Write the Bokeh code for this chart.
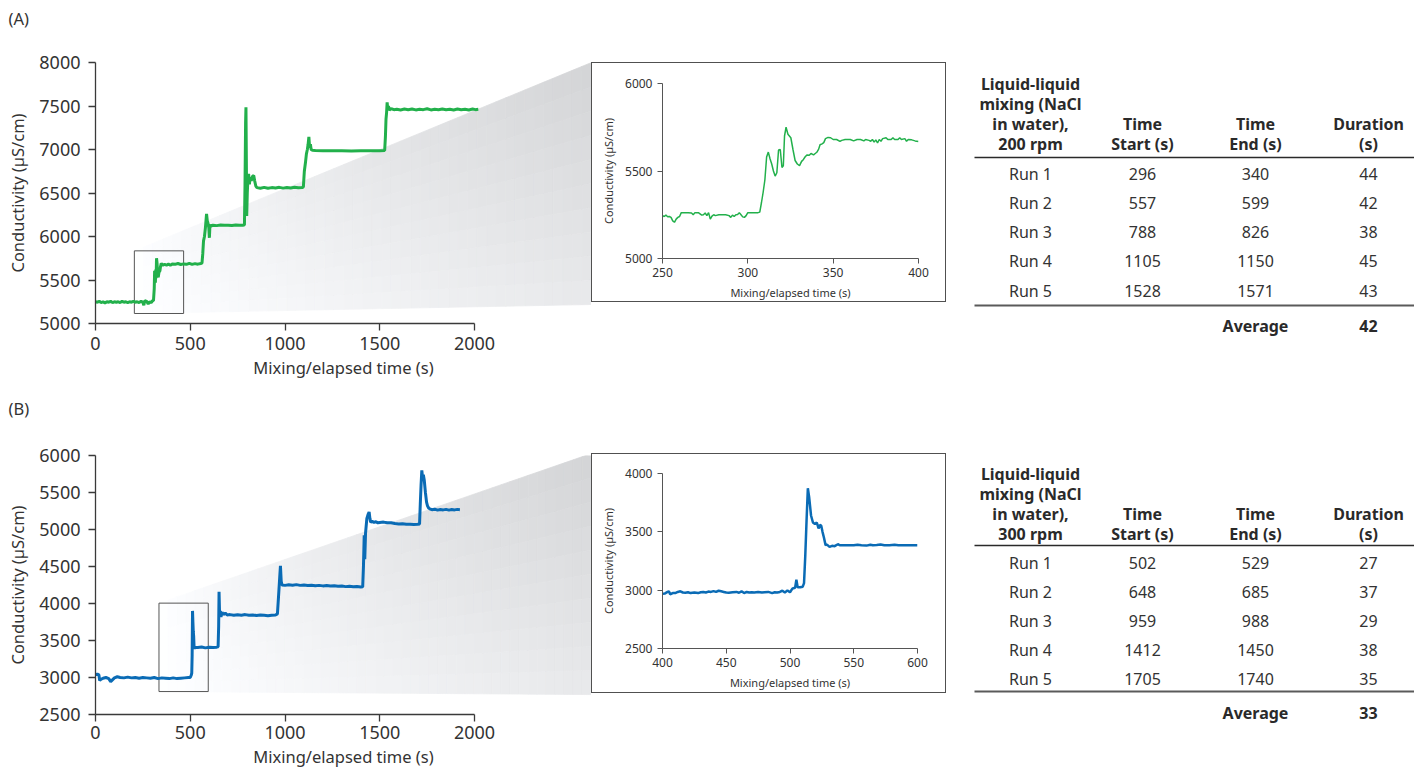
from bokeh.plotting import figure
from bokeh.layouts import row, column
from bokeh.models import Range1d, FixedTicker
from bokeh.embed import file_html
from bokeh.resources import INLINE
from bokeh.core.properties import value

FONT = "Noto Sans"
GREEN = "#22b04b"
BLUE = "#0a6bb5"
TXT = "#333333"
AX = "#3a3a3a"

# ---------------- data ----------------
# (A) 200 rpm, full run
a_time = [0, 10, 20, 30, 40, 50, 60, 70, 80, 90, 100, 110, 120, 130, 140, 150, 160, 170, 180, 190,
          200, 210, 220, 230, 240, 250, 255, 260, 270, 278, 285, 295, 300, 306, 310, 312, 316, 318,
          320, 322, 325, 328, 331, 335, 340, 343, 347, 355, 365, 375, 385, 395, 405, 420, 435, 450,
          465, 480, 495, 510, 525, 540, 555, 562, 566, 570, 575, 580, 586, 590, 594, 598, 601, 604,
          610, 620, 640, 660, 680, 700, 720, 740, 760, 780, 786, 789, 792, 794, 796, 798, 801, 804,
          808, 812, 816, 822, 828, 835, 840, 846, 852, 870, 890, 910, 930, 950, 970, 990, 1010, 1030,
          1050, 1070, 1090, 1097, 1102, 1108, 1113, 1118, 1122, 1126, 1130, 1134, 1138, 1145, 1160,
          1200, 1250, 1300, 1350, 1400, 1450, 1500, 1526, 1530, 1533, 1536, 1539, 1542, 1546, 1550,
          1556, 1565, 1575, 1590, 1610, 1630, 1650, 1670, 1690, 1710, 1730, 1750, 1770, 1790, 1810,
          1830, 1850, 1870, 1890, 1910, 1930, 1950, 1970, 1990, 2005, 2020]
a_cond = [5250, 5245, 5255, 5240, 5250, 5235, 5250, 5245, 5255, 5240, 5250, 5245, 5250, 5240, 5255,
          5245, 5250, 5240, 5250, 5245, 5255, 5245, 5250, 5240, 5255, 5245, 5210, 5262, 5255, 5225,
          5248, 5240, 5262, 5262, 5400, 5605, 5470, 5620, 5520, 5750, 5690, 5560, 5530, 5590, 5605,
          5655, 5690, 5670, 5680, 5672, 5682, 5670, 5685, 5680, 5690, 5678, 5685, 5680, 5692, 5680,
          5688, 5682, 5690, 5695, 5800, 5950, 6000, 6100, 6260, 6180, 6150, 6100, 5985, 6130, 6120,
          6130, 6125, 6132, 6128, 6130, 6126, 6132, 6128, 6130, 6135, 6600, 7300, 7485, 6900, 6235,
          6500, 6650, 6720, 6600, 6680, 6640, 6690, 6700, 6640, 6580, 6562, 6555, 6565, 6555, 6562,
          6558, 6565, 6556, 6562, 6558, 6565, 6560, 6562, 6570, 6750, 6850, 6950, 7000, 7060, 7146,
          7020, 7060, 7000, 6990, 6988, 6986, 6985, 6985, 6984, 6985, 6985, 6986, 6988, 7150, 7350,
          7420, 7542, 7470, 7500, 7450, 7470, 7465, 7458, 7462, 7455, 7465, 7458, 7466, 7455, 7462,
          7458, 7468, 7455, 7462, 7458, 7465, 7456, 7462, 7455, 7465, 7458, 7462, 7455, 7465, 7458,
          7462]

# (A) inset, 250-400 s
ai_time = [250, 251, 252, 253, 254, 255, 256, 257, 258, 259, 260, 261, 263, 265, 267, 268, 269, 271,
           272, 273, 274, 275, 276, 277, 278, 279, 280, 281, 283, 285, 287, 289, 290, 291, 292, 293,
           294, 295, 296, 297, 298, 299, 300, 303, 306, 307, 308, 309, 310, 311, 312, 313, 314, 315,
           316, 317, 318, 319, 320, 320.8, 321.5, 322.4, 323.5, 325.2, 326.5, 327.7, 329, 330.3,
           331.5, 332.6, 333.5, 334.6, 336, 337, 338.5, 339.5, 340.4, 341.5, 342.3, 343.5, 344.5,
           345.5, 347, 348.5, 350, 352, 354, 355, 357, 358, 360, 362, 364, 366, 368, 369, 371, 372,
           373, 374, 375, 376, 377, 378, 379, 381, 382, 384, 385, 386, 388, 389, 390, 392, 393, 394,
           396, 398, 400]
ai_cond = [5245, 5240, 5248, 5238, 5240, 5235, 5215, 5207, 5225, 5235, 5240, 5262, 5262, 5262, 5260,
           5250, 5262, 5262, 5255, 5248, 5250, 5260, 5245, 5262, 5225, 5242, 5250, 5245, 5250, 5250,
           5250, 5245, 5235, 5248, 5240, 5250, 5252, 5262, 5250, 5238, 5235, 5245, 5262, 5262, 5262,
           5265, 5320, 5380, 5450, 5580, 5608, 5570, 5540, 5500, 5471, 5490, 5620, 5623, 5520, 5530,
           5700, 5750, 5710, 5690, 5620, 5560, 5540, 5531, 5555, 5566, 5580, 5592, 5590, 5600, 5592,
           5600, 5607, 5625, 5650, 5655, 5662, 5685, 5692, 5690, 5680, 5680, 5669, 5675, 5680, 5680,
           5680, 5672, 5680, 5680, 5672, 5680, 5675, 5670, 5680, 5665, 5678, 5660, 5680, 5670, 5685,
           5690, 5680, 5680, 5690, 5680, 5680, 5690, 5680, 5685, 5670, 5680, 5678, 5672, 5668]

# (B) 300 rpm, full run
b_time = [0, 10, 18, 22, 28, 40, 55, 70, 80, 88, 100, 115, 130, 150, 170, 190, 210, 230, 250, 270,
          290, 310, 330, 350, 370, 390, 410, 430, 450, 470, 490, 500, 505, 508, 510, 512, 514, 516,
          518, 520, 522, 526, 540, 560, 580, 600, 620, 640, 647, 650, 652, 655, 658, 662, 668, 675,
          685, 695, 710, 730, 750, 770, 790, 810, 830, 850, 870, 890, 910, 930, 950, 960, 966, 972,
          976, 980, 984, 1000, 1020, 1040, 1060, 1080, 1100, 1120, 1140, 1160, 1180, 1200, 1220, 1240,
          1260, 1280, 1300, 1320, 1340, 1360, 1380, 1400, 1410, 1414, 1418, 1421, 1425, 1432, 1438,
          1444, 1448, 1452, 1460, 1470, 1480, 1490, 1500, 1520, 1540, 1560, 1580, 1600, 1620, 1640,
          1660, 1680, 1700, 1710, 1714, 1718, 1722, 1726, 1730, 1735, 1741, 1747, 1752, 1758, 1764,
          1775, 1790, 1805, 1820, 1835, 1850, 1865, 1880, 1895, 1910, 1923]
b_cond = [3040, 3045, 3035, 2960, 2975, 2990, 3000, 2985, 2945, 2965, 2995, 3010, 3000, 2995, 3005,
          2995, 3000, 2990, 3000, 2995, 2990, 3000, 2985, 2995, 2990, 2985, 2995, 2985, 2990, 2995,
          3000, 3000, 3030, 3060, 3300, 3900, 3750, 3622, 3560, 3420, 3390, 3410, 3405, 3412, 3400,
          3410, 3405, 3410, 3415, 3700, 4160, 3830, 3900, 3820, 3880, 3850, 3870, 3845, 3850, 3840,
          3848, 3842, 3850, 3840, 3845, 3838, 3845, 3840, 3835, 3842, 3845, 3860, 4100, 4350, 4510,
          4300, 4250, 4245, 4252, 4248, 4255, 4245, 4250, 4243, 4248, 4240, 4245, 4238, 4242, 4236,
          4240, 4232, 4236, 4228, 4232, 4225, 4230, 4222, 4225, 4500, 4923, 4600, 4950, 5150, 5200,
          5237, 5150, 5100, 5110, 5095, 5105, 5090, 5095, 5100, 5090, 5092, 5080, 5075, 5078, 5070,
          5072, 5068, 5070, 5075, 5350, 5600, 5798, 5700, 5740, 5664, 5500, 5370, 5320, 5290, 5280,
          5268, 5275, 5262, 5270, 5265, 5272, 5262, 5270, 5265, 5272, 5268]

# (B) inset, 400-600 s
bi_time = [400, 402, 404, 405, 406, 408, 410, 412, 414, 416, 418, 420, 422, 425, 428, 430, 432, 434,
           436, 438, 440, 442, 444, 446, 448, 450, 452, 455, 458, 460, 462, 464, 466, 468, 470, 472,
           475, 478, 480, 483, 486, 488, 490, 492, 494, 496, 498, 500, 502, 504, 505, 506, 508, 510,
           511, 512, 513, 514, 515, 516.5, 518, 519.6, 521, 522.4, 523.5, 524.5, 525.5, 526.6, 527.9,
           529, 531, 533, 535, 537.6, 539, 545, 550, 553, 556, 560, 563, 565, 568, 571, 574, 578, 582,
           585, 590, 595, 600]
bi_cond = [2970, 2972, 2985, 2990, 2965, 2975, 2975, 2985, 2990, 2980, 2978, 2982, 2975, 2980, 2975,
           2982, 2985, 2980, 2988, 2985, 2992, 2985, 2995, 2990, 2985, 2980, 2978, 2982, 2985, 2978,
           2990, 2975, 2985, 2980, 2982, 2980, 2985, 2980, 2982, 2985, 2975, 2982, 2980, 2985, 2995,
           2980, 2998, 2982, 3015, 3020, 3090, 3025, 3025, 3030, 3060, 3300, 3600, 3874, 3800, 3640,
           3580, 3566, 3580, 3529, 3560, 3552, 3500, 3452, 3386, 3390, 3371, 3380, 3377, 3394, 3385,
           3385, 3385, 3390, 3385, 3382, 3390, 3385, 3388, 3392, 3385, 3385, 3390, 3385, 3385, 3385,
           3385]

# zoom boxes (data units of the full runs)
a_zoom = (205, 465, 5115, 5835)
b_zoom = (335, 595, 2810, 4005)

# tables
a_header = ["Liquid-liquid", "mixing (NaCl", "in water),", "200 rpm"]
b_header = ["Liquid-liquid", "mixing (NaCl", "in water),", "300 rpm"]
col_heads = [["Time", "Start (s)"], ["Time", "End (s)"], ["Duration", "(s)"]]
runs = ["Run 1", "Run 2", "Run 3", "Run 4", "Run 5"]
a_start = ["296", "557", "788", "1105", "1528"]
a_end = ["340", "599", "826", "1150", "1571"]
a_dur = ["44", "42", "38", "45", "43"]
a_avg = "42"
b_start = ["502", "648", "959", "1412", "1705"]
b_end = ["529", "685", "988", "1450", "1740"]
b_dur = ["27", "37", "29", "38", "35"]
b_avg = "33"

# ---------------- layout constants (px) ----------------
MAIN_W = 591
MAIN_BL = 95                     # frame left border
PX_PER_2000 = 379                # px for 0..2000 s
X_END = 2000 * (MAIN_W - MAIN_BL) / PX_PER_2000
INSET_W, INSET_H = 355, 240
TABLE_W = 468


def style_axis(ax, size, label_size, tick_out, std, lab_std):
    ax.axis_line_color = AX
    ax.axis_line_width = 1.3
    ax.major_tick_line_color = AX
    ax.major_tick_line_width = 1.3
    ax.major_tick_out = tick_out
    ax.major_tick_in = 0
    ax.minor_tick_line_color = None
    ax.major_label_text_font = FONT
    ax.major_label_text_font_size = size
    ax.major_label_text_color = TXT
    ax.major_label_standoff = std
    ax.axis_label_text_font = FONT
    ax.axis_label_text_font_size = label_size
    ax.axis_label_text_font_style = "normal"
    ax.axis_label_text_color = TXT
    ax.axis_label_standoff = lab_std


def header_fig(text, height):
    p = figure(width=80, height=height, x_range=Range1d(0, 80), y_range=Range1d(height, 0),
               output_backend="svg", toolbar_location=None, min_border=0, min_border_left=0,
               min_border_right=0, min_border_top=0, min_border_bottom=0)
    p.axis.visible = False
    p.grid.visible = False
    p.outline_line_color = None
    p.text(x=[8], y=[height - 18], text=[text], text_font=value(FONT), text_font_size="16.5px",
           text_color=TXT, text_baseline="middle", text_align="left")
    return p


def main_fig(t, y, color, yr, yticks, zoom, height, top, bottom, box_top_px, box_bot_px,
             x_std, x_lab_std):
    frame_h = height - top - bottom
    p = figure(width=MAIN_W, height=height, x_range=Range1d(0, X_END),
               y_range=Range1d(*yr), output_backend="svg", toolbar_location=None,
               min_border_left=MAIN_BL, min_border_right=0, min_border_top=top,
               min_border_bottom=bottom)
    p.grid.visible = False
    p.outline_line_color = None
    # gradient wedge from zoom box to the inset
    per_px = (yr[1] - yr[0]) / frame_h
    y_top = yr[1] - box_top_px * per_px
    y_bot = yr[1] - box_bot_px * per_px
    bx0, bx1, by0, by1 = zoom
    xs, ys, cols = [], [], []
    nu, nv = 48, 10
    for i in range(nu):
        u0, u1 = i / nu, (i + 1) / nu
        xa = bx0 + u0 * (X_END - bx0)
        xb = bx0 + u1 * (X_END - bx0)
        ta = by1 + u0 * (y_top - by1)
        tb = by1 + u1 * (y_top - by1)
        ba = by0 + u0 * (y_bot - by0)
        bb = by0 + u1 * (y_bot - by0)
        for j in range(nv):
            v0, v1 = j / nv, (j + 1) / nv
            xs.append([xa, xb, xb, xa])
            ys.append([ta + v0 * (ba - ta), tb + v0 * (bb - tb),
                       tb + v1 * (bb - tb), ta + v1 * (ba - ta)])
            uc, vc = (u0 + u1) / 2, (v0 + v1) / 2
            g = 255 - 44 * (uc ** 0.85) * (1 - 0.5 * vc)
            c = "#%02x%02x%02x" % (int(g), int(min(255, g + 1)), int(min(255, g + 3)))
            cols.append(c)
    p.patches(xs, ys, fill_color=cols, line_color=cols, line_width=0.8)
    p.quad(left=[bx0], right=[bx1], bottom=[by0], top=[by1], fill_color=None,
           line_color="#555555", line_width=1)
    p.line(t, y, line_color=color, line_width=3)
    p.xaxis.ticker = FixedTicker(ticks=[0, 500, 1000, 1500, 2000])
    p.xaxis.bounds = (0, 2000)
    p.yaxis.ticker = FixedTicker(ticks=yticks)
    p.yaxis.bounds = (yr[0], yr[1])
    p.xaxis.axis_label = "Mixing/elapsed time (s)"
    p.yaxis.axis_label = "Conductivity (µS/cm)"
    style_axis(p.xaxis[0], "18px", "16.5px", 7, x_std, x_lab_std)
    style_axis(p.yaxis[0], "18px", "16.5px", 7, 8, 7)
    return p


def inset_fig(t, y, color, lw, xr, yr, xticks, yticks, top, bottom, right, margin_top):
    p = figure(width=INSET_W, height=INSET_H, x_range=Range1d(*xr), y_range=Range1d(*yr),
               output_backend="svg", toolbar_location=None,
               min_border_left=70, min_border_right=right, min_border_top=top,
               min_border_bottom=bottom, margin=(margin_top, 0, 0, 0))
    p.styles = {"border": "1px solid #505050"}
    p.grid.visible = False
    p.outline_line_color = None
    p.line(t, y, line_color=color, line_width=lw)
    p.xaxis.ticker = FixedTicker(ticks=xticks)
    p.yaxis.ticker = FixedTicker(ticks=yticks)
    p.xaxis.axis_label = "Mixing/elapsed time (s)"
    p.yaxis.axis_label = "Conductivity (µS/cm)"
    style_axis(p.xaxis[0], "12px", "11px", 5, 4, 5)
    style_axis(p.yaxis[0], "12px", "11px", 5, 5, 6)
    for ax in (p.xaxis[0], p.yaxis[0]):
        ax.axis_line_width = 1
        ax.major_tick_line_width = 1
        ax.axis_line_color = "#555555"
        ax.major_tick_line_color = "#555555"
    return p


def table_fig(header, starts, ends, durs, avg, height, y0, rule1, row0, step, rule2, avg_y):
    p = figure(width=TABLE_W, height=height, x_range=Range1d(0, TABLE_W),
               y_range=Range1d(height, 0), output_backend="svg", toolbar_location=None,
               min_border=0, min_border_left=0, min_border_right=0, min_border_top=0,
               min_border_bottom=0)
    p.axis.visible = False
    p.grid.visible = False
    p.outline_line_color = None
    cx = [84, 196, 309, 422]
    lh = 20
    bold = dict(text_font=value(FONT), text_font_size="16px", text_color="#2a2a2a",
                text_align="center", text_baseline="middle", text_font_style="bold")
    reg = dict(bold, text_font_style="normal", text_color=TXT)
    p.text(x=[cx[0]] * len(header), y=[y0 + k * lh for k in range(len(header))],
           text=header, **bold)
    hx, hy, ht = [], [], []
    for c, lines in enumerate(col_heads):
        for k, s in enumerate(lines):
            hx.append(cx[c + 1])
            hy.append(y0 + (len(header) - len(lines) + k) * lh)
            ht.append(s)
    p.text(x=hx, y=hy, text=ht, **bold)
    p.segment(x0=[28], x1=[TABLE_W], y0=[rule1], y1=[rule1], line_color="#2a2a2a",
              line_width=1.6)
    rows_y = [row0 + k * step for k in range(len(runs))]
    for c, col in enumerate([runs, starts, ends, durs]):
        p.text(x=[cx[c]] * len(col), y=rows_y, text=col, **reg)
    p.segment(x0=[28], x1=[TABLE_W], y0=[rule2], y1=[rule2], line_color="#5a5a5a",
              line_width=2)
    p.text(x=[cx[2], cx[3]], y=[avg_y, avg_y], text=["Average", avg], **bold)
    return p


# ---- panel A: header 0..36, content 36..388 ----
a_head = header_fig("(A)", 36)
a_main = main_fig(a_time, a_cond, GREEN, (5000, 8000), [5000, 5500, 6000, 6500, 7000, 7500, 8000],
                  a_zoom, 352, 26, 65, 0, 242, 6, 3)
a_inset = inset_fig(ai_time, ai_cond, GREEN, 1.5, (250, 400), (5000, 6000), [250, 300, 350, 400],
                    [5000, 5500, 6000], 20, 45, 29, 26)
a_table = table_fig(a_header, a_start, a_end, a_dur, a_avg, 352, 47, 121, 137, 29.3, 269, 289)

# ---- panel B: header 388..428, content 428..770 ----
b_head = header_fig("(B)", 38)
b_main = main_fig(b_time, b_cond, BLUE, (2500, 6000), [2500, 3000, 3500, 4000, 4500, 5000, 5500, 6000],
                  b_zoom, 344, 29, 55, -2, 240, 4, 3)
b_inset = inset_fig(bi_time, bi_cond, BLUE, 2.5, (400, 600), (2500, 4000),
                    [400, 450, 500, 550, 600], [2500, 3000, 3500, 4000], 19, 46, 30, 27)
b_table = table_fig(b_header, b_start, b_end, b_dur, b_avg, 344, 47, 119, 136, 29.0, 265, 286)

layout = column(column(a_head), row(column(a_main), column(a_inset), column(a_table)),
                column(b_head), row(column(b_main), column(b_inset), column(b_table)))

with open("out.html", "w") as f:
    f.write(file_html(layout, INLINE, title="Liquid-liquid mixing"))
